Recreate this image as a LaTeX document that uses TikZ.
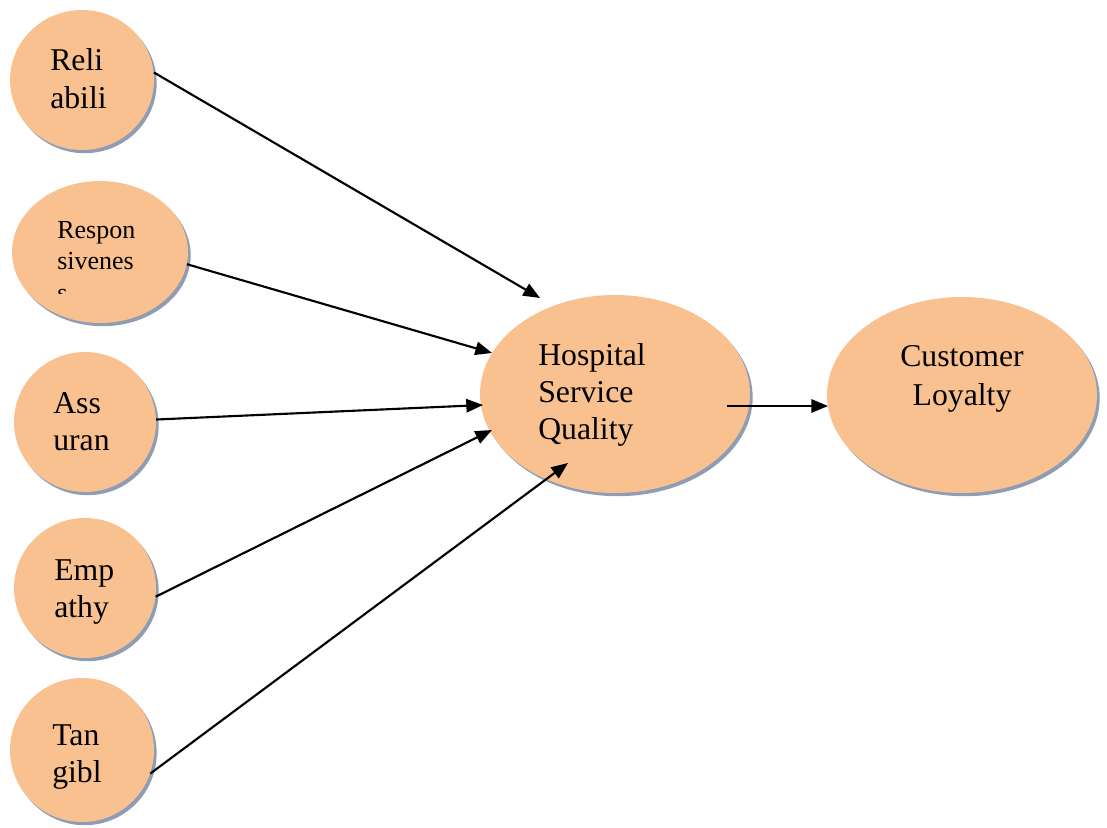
\documentclass[tikz,border=0pt]{standalone}
\usepackage{fontspec}
\setmainfont{Liberation Serif}
\usetikzlibrary{shadows,calc,arrows.meta,shapes.geometric}
\definecolor{bubble}{HTML}{F9C18F}
\definecolor{shade}{HTML}{8E9DB4}
\tikzset{
  bub/.style={ellipse, fill=bubble, draw=none, inner sep=0pt,
    drop shadow={shadow xshift=2pt, shadow yshift=-2.4pt, fill=shade, opacity=1}},
  big/.style={anchor=base west, inner sep=0pt, font=\fontsize{23.8}{28}\selectfont},
  small/.style={anchor=base west, inner sep=0pt, font=\fontsize{19.5}{22}\selectfont},
  link/.style={line width=1.6pt, -{Triangle[length=12.5pt,width=10pt]}}
}
\begin{document}
\begin{tikzpicture}[x=0.75pt,y=-0.75pt]
\useasboundingbox (0,0) rectangle (1107,828);
% ellipses
\node[bub, minimum width=108pt, minimum height=105pt] (rel) at (82,80) {};
\node[bub, minimum width=132pt, minimum height=106.5pt] (resp) at (100,252) {};
\node[bub, minimum width=106.5pt, minimum height=105pt] (ass) at (85,422) {};
\node[bub, minimum width=106.5pt, minimum height=105pt] (emp) at (85,588) {};
\node[bub, minimum width=108pt, minimum height=108pt] (tan) at (82,750) {};
\node[bub, minimum width=202.5pt, minimum height=148.5pt] (hsq) at (615,394) {};
\node[bub, minimum width=202.5pt, minimum height=147pt] (cl) at (962,395) {};
% texts
\node[big] (relA) at (50,70) {Reli};
\node[big] (relB) at (50,108) {abili};
\node[small] (respA) at (57,238) {Respon};
\node[small] (respB) at (57,269) {sivenes};
\begin{scope}
\clip (40,280) rectangle (140,293);
\node[small] (respC) at (57,301) {s};
\end{scope}
\node[big] (assA) at (53,413) {Ass};
\node[big] (assB) at (53,450) {uran};
\node[big] (empA) at (54,580) {Emp};
\node[big] (empB) at (54,617) {athy};
\node[big] (tanA) at (52,745) {Tan};
\node[big] (tanB) at (52,782) {gibl};
\node[big] (hsqA) at (538,365) {Hospital};
\node[big] (hsqB) at (538,402) {Service};
\node[big] (hsqC) at (538,439) {Quality};
\node[big, anchor=base] (clA) at (962,366) {Customer};
\node[big, anchor=base] (clB) at (962,405) {Loyalty};
% arrow ends
\coordinate (t1) at ($(hsq.center)+(-75,-96)$);
\coordinate (t2) at ($(hsq.center)+(-123,-41)$);
\coordinate (t3) at ($(hsq.center)+(-132,11)$);
\coordinate (t4) at ($(hsq.center)+(-123,36)$);
\coordinate (t5) at ($(hsq.center)+(-47,69)$);
\coordinate (s6) at ($(hsq.center)+(112,12)$);
\coordinate (t6) at ($(cl.center)+(-134,11)$);
% connectors
\draw[link] (rel.6) -- (t1);
\draw[link] (resp.-8) -- (t2);
\draw[link] (ass.2) -- (t3);
\draw[link] (emp.-7) -- (t4);
\draw[link] (tan.-19) -- (t5);
\draw[link] (s6) -- (t6);
\end{tikzpicture}
\end{document}
